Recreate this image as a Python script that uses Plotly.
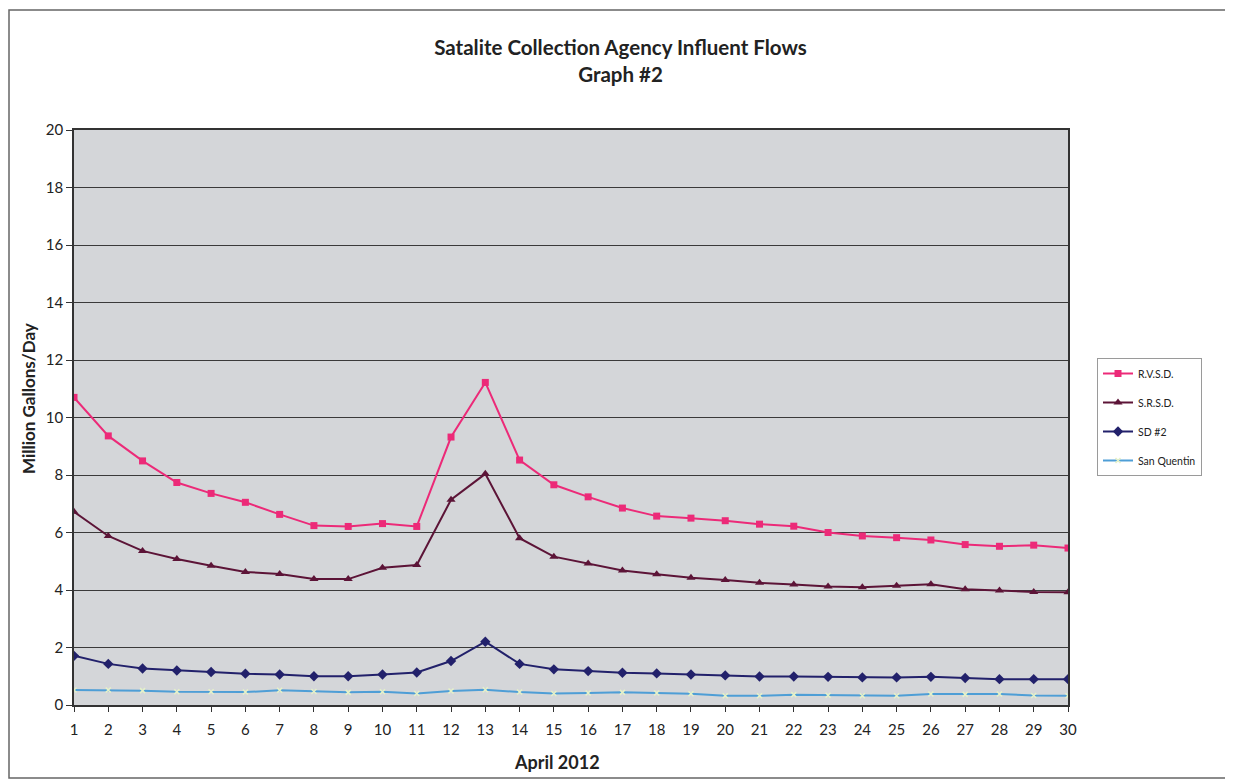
import plotly.graph_objects as go

days = list(range(1, 31))
rvsd = [10.70, 9.36, 8.49, 7.74, 7.36, 7.05, 6.63, 6.24, 6.21, 6.31,
        6.21, 9.32, 11.22, 8.52, 7.66, 7.24, 6.85, 6.57, 6.50, 6.41,
        6.29, 6.22, 6.00, 5.88, 5.82, 5.74, 5.58, 5.52, 5.56, 5.46]
srsd = [6.72, 5.88, 5.36, 5.08, 4.84, 4.63, 4.56, 4.38, 4.38, 4.77,
        4.87, 7.14, 8.04, 5.80, 5.16, 4.92, 4.68, 4.55, 4.43, 4.35,
        4.25, 4.19, 4.12, 4.10, 4.15, 4.20, 4.03, 3.98, 3.93, 3.92]
sd2 = [1.71, 1.43, 1.27, 1.20, 1.15, 1.09, 1.06, 1.00, 1.00, 1.06,
       1.13, 1.53, 2.20, 1.43, 1.24, 1.18, 1.12, 1.10, 1.06, 1.03,
       0.99, 0.99, 0.98, 0.96, 0.96, 0.98, 0.94, 0.90, 0.90, 0.90]
sq = [0.52, 0.52, 0.50, 0.46, 0.46, 0.45, 0.51, 0.47, 0.44, 0.46,
      0.40, 0.49, 0.53, 0.45, 0.40, 0.42, 0.44, 0.42, 0.39, 0.32,
      0.32, 0.36, 0.34, 0.32, 0.32, 0.38, 0.37, 0.38, 0.33, 0.32]

series = [
    ("R.V.S.D.", rvsd, "#EC2A78", "square", 7),
    ("S.R.S.D.", srsd, "#5C1437", "triangle-up", 8),
    ("SD #2", sd2, "#22216B", "diamond", 8),
    ("San Quentin", sq, "#4E9ED6", "x-thin", 5),
]

font_family = "Lato, 'Open Sans', sans-serif"

# figure is drawn 8px in from the page edge by the browser body margin
W, H = 1225, 774
L, T = 66, 122
PW, PH = 994, 575

fig = go.Figure()
for name, vals, color, sym, size in series:
    marker = dict(symbol=sym, size=size, color=color)
    if sym == "x-thin":
        marker = dict(symbol="x-thin", size=size, color="#E6F2C8",
                      line=dict(color="#E6F2C8", width=1.5))
    fig.add_trace(go.Scatter(
        x=days, y=vals, name=name, mode="lines+markers",
        line=dict(color=color, width=2),
        marker=marker, legendgroup=name,
    ))

fig.update_layout(
    width=W, height=H,
    margin=dict(l=L, r=W - L - PW, t=T, b=H - T - PH),
    paper_bgcolor="white",
    plot_bgcolor="#D4D6D9",
    font=dict(family=font_family, color="#222222"),
    title=dict(
        text="<b>Satalite Collection Agency Influent Flows<br>Graph #2</b>",
        x=0.5, xanchor="center", xref="container",
        y=1 - 47 / H, yanchor="middle", yref="container",
        font=dict(size=20.5, family=font_family),
    ),
    showlegend=True,
    legend=dict(
        x=(1089 - L) / PW, xanchor="left",
        y=(T + PH - 409) / PH, yanchor="middle",
        bordercolor="#9A9A9A", borderwidth=1,
        bgcolor="white",
        font=dict(size=10.5, family=font_family),
        tracegroupgap=10,
        itemwidth=30,
        entrywidth=92, entrywidthmode="pixels",
    ),
    xaxis=dict(
        range=[1, 30], tickmode="array", tickvals=days,
        ticktext=[str(d) for d in days],
        ticks="outside", ticklen=5, tickcolor="#333333",
        showgrid=False, showline=True, linecolor="#333333", linewidth=1.5,
        mirror=True, zeroline=False,
        tickfont=dict(size=15), ticklabelstandoff=5,
    ),
    yaxis=dict(
        range=[0, 20], dtick=2,
        ticks="outside", ticklen=6, tickcolor="#333333",
        showgrid=True, gridcolor="#3A3A3A", gridwidth=1,
        showline=True, linecolor="#333333", linewidth=1.5, mirror=True,
        zeroline=False,
        tickfont=dict(size=15),
    ),
)

fig.add_annotation(text="<b>April 2012</b>", xref="paper", yref="paper",
                   x=(549 - L) / PW, y=-(754 - T - PH) / PH,
                   xanchor="center", yanchor="middle", showarrow=False,
                   font=dict(size=18))
fig.add_annotation(text="<b>Million Gallons/Day</b>", xref="paper", yref="paper",
                   x=(20 - L) / PW, y=(T + PH - 391) / PH, textangle=-90,
                   xanchor="center", yanchor="middle", showarrow=False,
                   font=dict(size=17))

fig.add_shape(type="rect", xref="paper", yref="paper",
              x0=(1 - L) / PW, x1=(1221 - L) / PW,
              y0=-(770 - T - PH) / PH, y1=(T + PH - 2) / PH,
              line=dict(color="#666666", width=1.5), fillcolor="rgba(0,0,0,0)",
              layer="below")

fig.write_html("out.html")
